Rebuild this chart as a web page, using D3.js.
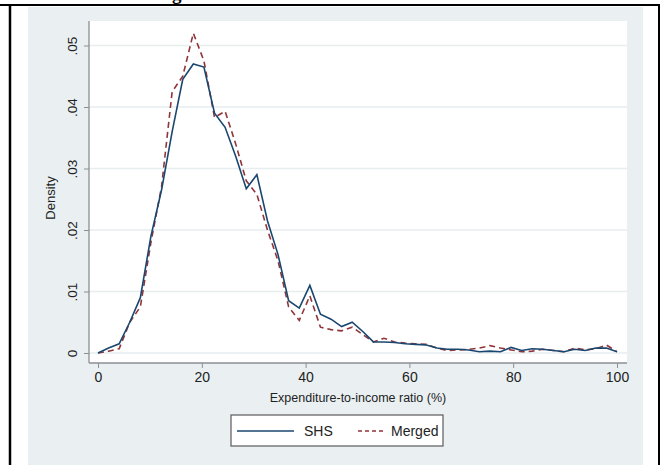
<!DOCTYPE html>
<html>
<head>
<meta charset="utf-8">
<script src="https://cdn.jsdelivr.net/npm/d3@7"></script>
<style>
  html, body { margin: 0; padding: 0; background: #fff; }
  svg { display: block; }
  text { font-family: "Liberation Sans", Arial, Helvetica, sans-serif; }
</style>
</head>
<body>
<script>
// Evaluation grid (percent) shared by both density estimates
const ratioGrid = [0, 2.04, 4.08, 6.12, 8.16, 10.2, 12.24, 14.29, 16.33, 18.37,
  20.41, 22.45, 24.49, 26.53, 28.57, 30.61, 32.65, 34.69, 36.73, 38.78,
  40.82, 42.86, 44.9, 46.94, 48.98, 51.02, 53.06, 55.1, 57.14, 59.18,
  61.22, 63.27, 65.31, 67.35, 69.39, 71.43, 73.47, 75.51, 77.55, 79.59,
  81.63, 83.67, 85.71, 87.76, 89.8, 91.84, 93.88, 95.92, 97.96, 100];

const shsDensity = [0, 0.0008, 0.0015, 0.005, 0.009, 0.019, 0.0265, 0.036, 0.0445, 0.047,
  0.0465, 0.039, 0.0367, 0.032, 0.0267, 0.029, 0.0215, 0.016, 0.0085, 0.0073,
  0.011, 0.0063, 0.0055, 0.0043, 0.005, 0.0035, 0.0018, 0.0018, 0.0017, 0.0015,
  0.0014, 0.0013, 0.0008, 0.0006, 0.0006, 0.0005, 0.0002, 0.0003, 0.0002, 0.0009,
  0.0004, 0.0007, 0.0006, 0.0004, 0.0002, 0.0006, 0.0004, 0.0008, 0.0008, 0.0002];

const mergedDensity = [0, 0.0003, 0.0007, 0.005, 0.0075, 0.018, 0.027, 0.0425, 0.045, 0.052,
  0.0475, 0.0383, 0.0393, 0.034, 0.028, 0.0258, 0.02, 0.015, 0.0075, 0.0053,
  0.0093, 0.0042, 0.0038, 0.0036, 0.0042, 0.003, 0.0018, 0.0024, 0.0018, 0.0016,
  0.0015, 0.0014, 0.0008, 0.0004, 0.0005, 0.0006, 0.0008, 0.0012, 0.0008, 0.0005,
  0.0002, 0.0003, 0.0006, 0.0004, 0.0002, 0.0008, 0.0005, 0.0007, 0.0013, 0.0002];

const xTicks = [0, 20, 40, 60, 80, 100];
const yTicks = [0, 0.01, 0.02, 0.03, 0.04, 0.05];
const yTickLabels = ["0", ".01", ".02", ".03", ".04", ".05"];

const seriesNames = ["SHS", "Merged"];
const seriesColors = ["#1a476f", "#90353b"];

const W = 665, H = 465;
const svg = d3.select("body").append("svg").attr("width", W).attr("height", H);

// Page frame and the tail of the caption line above the figure
svg.append("text").attr("x", 172).attr("y", 0)
  .style("font-family", "'Liberation Serif', 'Times New Roman', serif")
  .style("font-weight", "bold").style("font-size", "19px").attr("fill", "#000").text("g");
svg.append("line").attr("x1", 0).attr("x2", 660).attr("y1", 5).attr("y2", 5)
  .attr("stroke", "#000").attr("stroke-width", 2);
svg.append("line").attr("x1", 10).attr("x2", 10).attr("y1", 4).attr("y2", H)
  .attr("stroke", "#000").attr("stroke-width", 2.5);
svg.append("line").attr("x1", 659).attr("x2", 659).attr("y1", 4).attr("y2", H)
  .attr("stroke", "#000").attr("stroke-width", 2);

// Graph region
svg.append("rect").attr("x", 28).attr("y", 7).attr("width", 615).attr("height", H - 7)
  .attr("fill", "#eaf0f2");

const plot = { left: 89, right: 627, top: 21, bottom: 363 };
svg.append("rect").attr("x", plot.left).attr("y", plot.top)
  .attr("width", plot.right - plot.left).attr("height", plot.bottom - plot.top)
  .attr("fill", "#ffffff");

const x = d3.scaleLinear().domain([0, 100]).range([98, 617]);
const y = d3.scaleLinear().domain([0, 0.05]).range([353, 45.5]);

// Horizontal gridlines
svg.append("g").selectAll("line").data(yTicks).join("line")
  .attr("x1", plot.left).attr("x2", plot.right)
  .attr("y1", d => y(d)).attr("y2", d => y(d))
  .attr("stroke", "#e6eef0").attr("stroke-width", 1.5);

// Axes
const yAxis = d3.axisLeft(y).tickValues(yTicks)
  .tickFormat((d, i) => yTickLabels[i]).tickSize(5).tickPadding(4);
const gy = svg.append("g").attr("transform", `translate(${plot.left},0)`).call(yAxis);
gy.select(".domain").attr("d", `M0,${plot.top}V${plot.bottom}`).attr("stroke", "#8a8f93").attr("stroke-width", 1.3);
gy.selectAll(".tick line").attr("stroke", "#8a8f93");
gy.selectAll(".tick text")
  .attr("transform", "rotate(-90)")
  .attr("x", 0).attr("y", -17).attr("dy", "0.35em")
  .style("text-anchor", "middle").style("font-size", "13.5px").attr("fill", "#222");

const xAxis = d3.axisBottom(x).tickValues(xTicks).tickSize(5).tickPadding(4);
const gx = svg.append("g").attr("transform", `translate(0,${plot.bottom})`).call(xAxis);
gx.select(".domain").attr("d", `M${plot.left},0H${plot.right}`).attr("stroke", "#8a8f93").attr("stroke-width", 1.3);
gx.selectAll(".tick line").attr("stroke", "#8a8f93");
gx.selectAll(".tick text").style("font-size", "14px").attr("fill", "#222");

// Axis titles
svg.append("text").attr("transform", "translate(55,198) rotate(-90)")
  .attr("text-anchor", "middle").style("font-size", "13px").attr("fill", "#222").text("Density");
svg.append("text").attr("x", 358).attr("y", 402)
  .attr("text-anchor", "middle").style("font-size", "12.5px").attr("fill", "#222")
  .text("Expenditure-to-income ratio (%)");

// Density curves
const line = d3.line().x(d => x(d[0])).y(d => y(d[1]));
const series = [shsDensity, mergedDensity].map(vals => ratioGrid.map((r, i) => [r, vals[i]]));

svg.append("path").datum(series[1]).attr("d", line)
  .attr("fill", "none").attr("stroke", seriesColors[1]).attr("stroke-width", 1.6)
  .attr("stroke-dasharray", "6,4");
svg.append("path").datum(series[0]).attr("d", line)
  .attr("fill", "none").attr("stroke", seriesColors[0]).attr("stroke-width", 1.6);

// Legend
const lg = svg.append("g");
lg.append("rect").attr("x", 231).attr("y", 415).attr("width", 212).attr("height", 31)
  .attr("fill", "#fff").attr("stroke", "#666").attr("stroke-width", 1.3);
lg.append("line").attr("x1", 237).attr("x2", 294).attr("y1", 431).attr("y2", 431)
  .attr("stroke", seriesColors[0]).attr("stroke-width", 1.6);
lg.append("text").attr("x", 304).attr("y", 436).style("font-size", "14px").attr("fill", "#222").text(seriesNames[0]);
lg.append("line").attr("x1", 358).attr("x2", 386).attr("y1", 431).attr("y2", 431)
  .attr("stroke", seriesColors[1]).attr("stroke-width", 1.6).attr("stroke-dasharray", "4,3");
lg.append("text").attr("x", 391).attr("y", 436).style("font-size", "14px").attr("fill", "#222").text(seriesNames[1]);
</script>
</body>
</html>
